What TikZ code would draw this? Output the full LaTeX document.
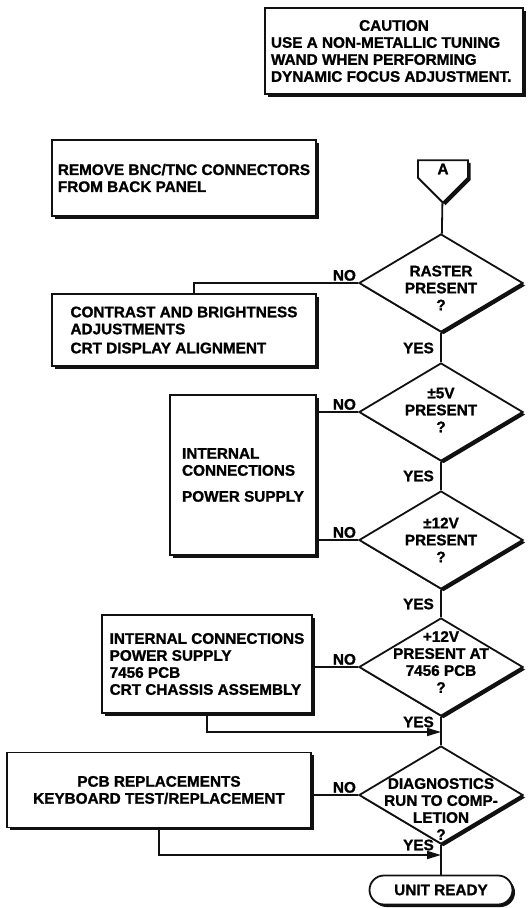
\documentclass[tikz,border=0pt]{standalone}
\usepackage{fontspec}
\setmainfont{Liberation Sans}[BoldFeatures={FakeBold=1.2}]
\usepackage{tikz}
\usetikzlibrary{arrows.meta,positioning,calc,shapes.geometric,shapes.misc,%
                shapes.symbols,shadows}
\definecolor{ink}{HTML}{111111}
\tikzset{
  box/.style     ={draw=ink,line width=1.8pt,fill=white,align=left,inner sep=0pt,
                   drop shadow={shadow xshift=2.5pt,shadow yshift=-2.5pt,fill=ink,opacity=1}},
  decision/.style={diamond,draw=ink,line width=1.8pt,fill=white,inner sep=0pt,
                   minimum width=164pt,minimum height=98pt,
                   drop shadow={shadow xshift=2.5pt,shadow yshift=-2.5pt,fill=ink,opacity=1}},
  dtext/.style   ={align=center,inner sep=0pt},
  terminal/.style={rounded rectangle,draw=ink,line width=1.8pt,fill=white,inner sep=0pt,
                   minimum width=143pt,minimum height=29pt,
                   drop shadow={shadow xshift=2.5pt,shadow yshift=-2.5pt,fill=ink,opacity=1}},
  offpage/.style ={signal,signal to=south,signal from=nowhere,draw=ink,line width=1.8pt,
                   fill=white,inner sep=0pt,minimum width=50pt,minimum height=23pt,
                   drop shadow={shadow xshift=2.5pt,shadow yshift=-2.5pt,fill=ink,opacity=1}},
  tag/.style     ={inner sep=2pt},
  flow/.style    ={line width=1.8pt,draw=ink},
  joinarrow/.style={-{Triangle[length=14pt,width=8pt]},line width=1.8pt,draw=ink}
}

\begin{document}
\begin{tikzpicture}[x=1pt,y=-1pt,every node/.style={font=\fontsize{15.3}{17}\selectfont\bfseries}]
  \useasboundingbox (0,0) rectangle (532,908);
  % notes and start
  \node[box,minimum width=258pt,minimum height=86pt] (caution) at (394,51)
    {\makebox[246pt]{CAUTION}\\USE A NON-METALLIC TUNING\\WAND WHEN PERFORMING\\DYNAMIC FOCUS ADJUSTMENT.};
  \node[box,minimum width=264pt,minimum height=76pt] (remove) at (184,178)
    {REMOVE BNC/TNC CONNECTORS\\FROM BACK PANEL};
  \node[offpage] (conA) at (443,169) {A};
  % checks down the right side
  \node[decision] (raster) at (441,283) {};
  \node[decision] (p5v)    at (441,412) {};
  \node[decision] (p12v)   at (441,540) {};
  \node[decision] (pcb12)  at (441,667) {};
  \node[decision] (diag)   at (441,795) {};
  \node[dtext] (rastertxt) at (441,288) {RASTER\\PRESENT\\?};
  \node[dtext] (p5vtxt)    at (441,410) {±5V\\PRESENT\\?};
  \node[dtext] (p12vtxt)   at (441,540) {±12V\\PRESENT\\?};
  \node[dtext] (pcb12txt)  at (441,662) {+12V\\PRESENT AT\\7456 PCB\\?};
  \node[dtext] (diagtxt)   at (441,809) {DIAGNOSTICS\\RUN TO COMP-\\LETION\\?};
  \node[terminal] (ready) at (441,890) {UNIT READY};
  % remedies on the left
  \node[box,minimum width=264pt,minimum height=72pt] (contrast) at (184,330)
    {CONTRAST AND BRIGHTNESS\\ADJUSTMENTS\\[2pt]CRT DISPLAY ALIGNMENT};
  \node[box,minimum width=146pt,minimum height=160pt] (internal) at (243,475)
    {INTERNAL\\CONNECTIONS\\[9pt]POWER SUPPLY};
  \node[box,minimum width=210pt,minimum height=98pt] (supply) at (207,664)
    {INTERNAL CONNECTIONS\\POWER SUPPLY\\7456 PCB\\CRT CHASSIS ASSEMBLY};
  \node[box,align=center,minimum width=304pt,minimum height=75pt] (swap) at (159,790)
    {PCB REPLACEMENTS\\KEYBOARD TEST/REPLACEMENT};
  % main line
  \draw[flow] (conA) -- (raster);
  \draw[flow] (raster) -- (p5v);
  \draw[flow] (p5v) -- (p12v);
  \draw[flow] (p12v) -- (pcb12);
  \draw[flow] (pcb12) -- (diag);
  \draw[flow] (diag) -- (ready);
  % no branches
  \draw[flow] (raster.west) -| ([xshift=10pt]contrast.north);
  \draw[flow] (p5v.west) -- (p5v.west -| internal.east);
  \draw[flow] (p12v.west) -- (p12v.west -| internal.east);
  \draw[flow] (pcb12.west) -- (pcb12.west -| supply.east);
  \draw[flow] (diag.west) -- (diag.west -| swap.east);
  % back into the main line
  \coordinate (join1) at (441,732);
  \coordinate (join2) at (441,855);
  \draw[joinarrow] (supply.south) |- (join1);
  \draw[joinarrow] (swap.south) |- (join2);
  % labels
  \node[tag,anchor=south east] (no1) at (raster.west) {NO};
  \node[tag,anchor=south east] (no2) at (p5v.west) {NO};
  \node[tag,anchor=south east] (no3) at (p12v.west) {NO};
  \node[tag,anchor=south east] (no4) at (pcb12.west) {NO};
  \node[tag,anchor=south east] (no5) at (diag.west) {NO};
  \node[tag,anchor=east] (yes1) at (436,348) {YES};
  \node[tag,anchor=east] (yes2) at (436,476) {YES};
  \node[tag,anchor=east] (yes3) at (436,604) {YES};
  \node[tag,anchor=east] (yes4) at (436,722) {YES};
  \node[tag,anchor=east] (yes5) at (436,845) {YES};
\end{tikzpicture}
\end{document}
